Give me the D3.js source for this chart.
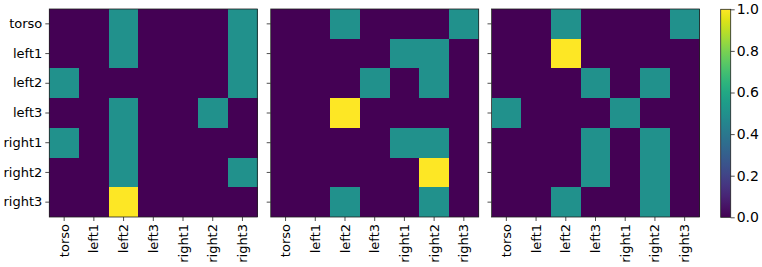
<!DOCTYPE html>
<html><head><meta charset="utf-8">
<script src="https://cdn.jsdelivr.net/npm/d3@7"></script>
<style>
html,body{margin:0;padding:0;background:#fff;}
svg text{font-family:"DejaVu Sans",sans-serif;fill:#000;}
</style></head>
<body><svg id="c" width="762" height="267"></svg>
<script>
const labels = ["torso","left1","left2","left3","right1","right2","right3"];
const matrixA = [
  [0,0,0.5,0,0,0,0.5],
  [0,0,0.5,0,0,0,0.5],
  [0.5,0,0,0,0,0,0.5],
  [0,0,0.5,0,0,0.5,0],
  [0.5,0,0.5,0,0,0,0],
  [0,0,0.5,0,0,0,0.5],
  [0,0,1,0,0,0,0]
];
const matrixB = [
  [0,0,0.5,0,0,0,0.5],
  [0,0,0,0,0.5,0.5,0],
  [0,0,0,0.5,0,0.5,0],
  [0,0,1,0,0,0,0],
  [0,0,0,0,0.5,0.5,0],
  [0,0,0,0,0,1,0],
  [0,0,0.5,0,0,0.5,0]
];
const matrixC = [
  [0,0,0.5,0,0,0,0.5],
  [0,0,1,0,0,0,0],
  [0,0,0,0.5,0,0.5,0],
  [0.5,0,0,0,0.5,0,0],
  [0,0,0,0.5,0,0.5,0],
  [0,0,0,0.5,0,0.5,0],
  [0,0,0.5,0,0,0.5,0]
];
const colorbarTicks = [0,0.2,0.4,0.6,0.8,1.0];

(function(){
const svg = d3.select("#c");
const panels = [matrixA, matrixB, matrixC];
const panelX = [49.3, 270.7, 491.5];
const topY = 9, size = 208;
const color = d3.scaleSequential(d3.interpolateViridis).domain([0,1]);
const fs = 13;

panels.forEach((m, pi) => {
  const g = svg.append("g").attr("transform", `translate(${panelX[pi]},${topY})`);
  const x = d3.scaleBand().domain(labels).range([0,size]);
  const y = d3.scaleBand().domain(labels).range([0,size]);
  const cells = [];
  m.forEach((row, r) => row.forEach((v, c) => cells.push({r: labels[r], c: labels[c], v})));
  g.selectAll("rect.cell").data(cells).join("rect")
    .attr("class","cell")
    .attr("x", d => x(d.c)).attr("y", d => y(d.r))
    .attr("width", x.bandwidth()+0.3).attr("height", y.bandwidth()+0.3)
    .attr("fill", d => color(d.v))
    .attr("shape-rendering","crispEdges");
  g.append("rect").attr("width", size).attr("height", size)
    .attr("fill","none").attr("stroke","#222").attr("stroke-width",0.8);
  const ay = d3.axisLeft(y).tickSize(4).tickPadding(3);
  if (pi > 0) ay.tickFormat("");
  const gy = g.append("g").call(ay);
  gy.select(".domain").remove();
  gy.selectAll("line").attr("stroke","#222").attr("stroke-width",0.8);
  gy.selectAll("text").attr("font-size", fs);
  const ax = d3.axisBottom(x).tickSize(4).tickPadding(3);
  const gx = g.append("g").attr("transform",`translate(0,${size})`).call(ax);
  gx.select(".domain").remove();
  gx.selectAll("line").attr("stroke","#222").attr("stroke-width",0.8);
  gx.selectAll("text").attr("font-size", fs)
    .attr("transform","rotate(-90)")
    .attr("text-anchor","end")
    .attr("x", -7).attr("y", 0).attr("dy","0.35em");
});

// colorbar
const cbX = 720.7, cbW = 10, cbTop = 9.3, cbH = 208;
const defs = svg.append("defs");
const grad = defs.append("linearGradient").attr("id","vir")
  .attr("x1","0").attr("y1","1").attr("x2","0").attr("y2","0");
d3.range(0, 1.0001, 0.05).forEach(t => {
  grad.append("stop").attr("offset", t).attr("stop-color", color(t));
});
const cb = svg.append("g").attr("transform", `translate(${cbX},${cbTop})`);
cb.append("rect").attr("width", cbW).attr("height", cbH).attr("fill","url(#vir)");
cb.append("rect").attr("width", cbW).attr("height", cbH)
  .attr("fill","none").attr("stroke","#222").attr("stroke-width",0.8);
const cy = d3.scaleLinear().domain([0,1]).range([cbH,0]);
const gcb = cb.append("g").attr("transform",`translate(${cbW},0)`)
  .call(d3.axisRight(cy).tickValues(colorbarTicks).tickFormat(d3.format(".1f")).tickSize(4).tickPadding(2));
gcb.select(".domain").remove();
gcb.selectAll("line").attr("stroke","#222").attr("stroke-width",0.8);
gcb.selectAll("text").attr("font-size", 14);
})();
</script></body></html>
